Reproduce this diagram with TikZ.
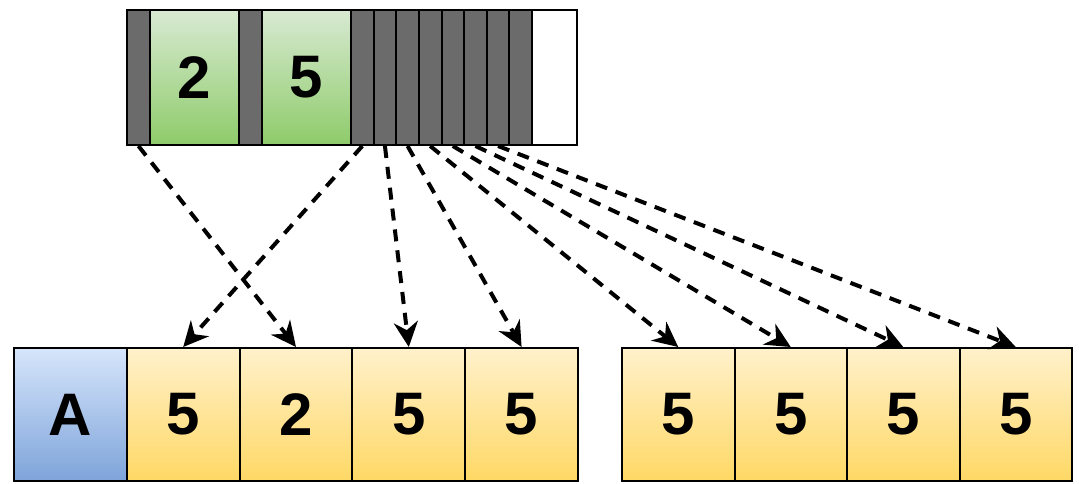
\documentclass[tikz,border=0pt]{standalone}
\usepackage{fontspec}
\setmainfont{Liberation Sans}
\usetikzlibrary{arrows.meta}
\definecolor{dgray}{HTML}{6B6B6B}
\definecolor{gtop}{HTML}{D8EAD2}
\definecolor{gbot}{HTML}{8ECB6A}
\definecolor{ytop}{HTML}{FFF1CB}
\definecolor{ybot}{HTML}{FFD865}
\definecolor{btop}{HTML}{D6E5FB}
\definecolor{bbot}{HTML}{7EA4DA}
\begin{document}
\begin{tikzpicture}[x=1pt,y=1pt,
  cell/.style={draw=black, line width=2pt, inner sep=0pt, minimum height=135pt,
    font=\fontsize{60}{60}\selectfont\bfseries},
  dk/.style={cell, fill=dgray, minimum width=22.625pt},
  grn/.style={cell, top color=gtop, bottom color=gbot, minimum width=89pt},
  ylw/.style={cell, top color=ytop, bottom color=ybot, minimum width=112.8pt, minimum height=133pt},
  blu/.style={cell, top color=btop, bottom color=bbot, minimum width=112.8pt, minimum height=133pt},
  ptr/.style={line width=4pt, dash pattern=on 12pt off 9pt,
    -{Stealth[length=25pt,width=24pt,inset=8pt]}}
]
\useasboundingbox (0,0) rectangle (1079,-483);
% top bar
\node[dk, minimum width=23pt] (d0) at (138.5,-77.5) {};
\node[grn] (g2) at (194.5,-77.5) {2};
\node[dk, minimum width=23pt] (d1) at (250.5,-77.5) {};
\node[grn] (g5) at (306.5,-77.5) {5};
\foreach \i in {1,...,8}
  \node[dk] (c\i) at ({351+22.625*(\i-0.5)},-77.5) {};
\node[cell, fill=white, minimum width=45pt] (w) at (554.5,-77.5) {};
% bottom left group
\node[blu] (bA) at (70.4,-414.5) {A};
\node[ylw] (b1) at (183.2,-414.5) {5};
\node[ylw] (b2) at (296,-414.5) {2};
\node[ylw] (b3) at (408.8,-414.5) {5};
\node[ylw] (b4) at (521.6,-414.5) {5};
% bottom right group
\node[ylw, minimum width=112.5pt] (r1) at (678.25,-414.5) {5};
\node[ylw, minimum width=112.5pt] (r2) at (790.75,-414.5) {5};
\node[ylw, minimum width=112.5pt] (r3) at (903.25,-414.5) {5};
\node[ylw, minimum width=112.5pt] (r4) at (1015.75,-414.5) {5};
% pointers
\draw[ptr] (d0.south) -- (b2.north);
\draw[ptr] (c1.south) -- (b1.north);
\draw[ptr] (c2.south) -- (b3.north);
\draw[ptr] (c3.south) -- (b4.north);
\draw[ptr] (c4.south) -- (r1.north);
\draw[ptr] (c5.south) -- (r2.north);
\draw[ptr] (c6.south) -- (r3.north);
\draw[ptr] (c7.south) -- (r4.north);
\end{tikzpicture}
\end{document}
